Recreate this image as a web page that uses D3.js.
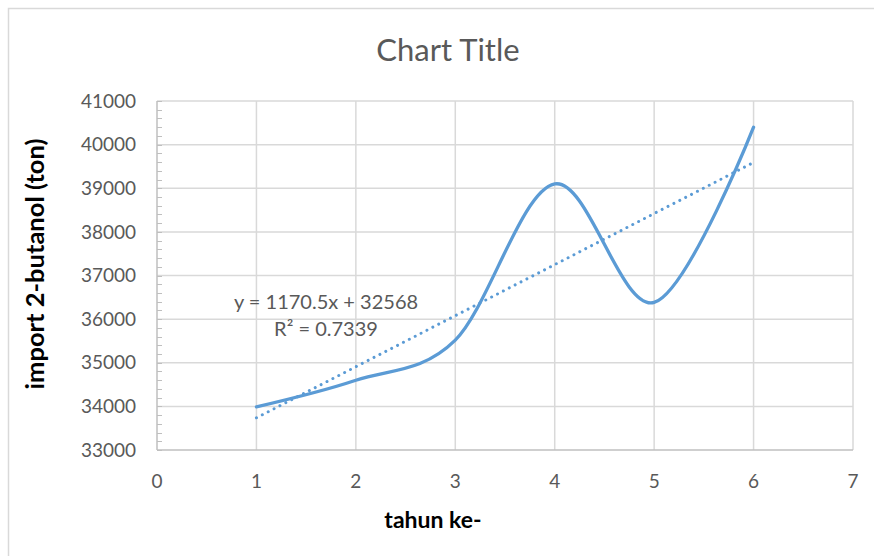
<!DOCTYPE html>
<html>
<head>
<meta charset="utf-8">
<script src="https://cdn.jsdelivr.net/npm/d3@7"></script>
<style>
  html, body { margin: 0; padding: 0; background: #fff; }
  svg { display: block; font-family: Lato, "Open Sans", sans-serif; }
</style>
</head>
<body>
<svg id="chart" width="874" height="556"></svg>
<script>
// Import of 2-butanol per year index
const years = [1, 2, 3, 4, 5, 6];
const imports = [33990, 34600, 35520, 39098, 36382, 40399];

// Linear trendline as reported on the chart
const trendSlope = 1170.5;
const trendIntercept = 32568;
const trendLabel = "y = 1170.5x + 32568";
const r2Label = "R² = 0.7339";

const xTicks = [0, 1, 2, 3, 4, 5, 6, 7];
const yTicks = [33000, 34000, 35000, 36000, 37000, 38000, 39000, 40000, 41000];

const title = "Chart Title";
const xTitle = "tahun ke-";
const yTitle = "import 2-butanol (ton)";

const svg = d3.select("#chart");
const W = 874, H = 556;

const x = d3.scaleLinear().domain([0, 7]).range([157, 853]);
const y = d3.scaleLinear().domain([33000, 41000]).range([450, 101]);

// chart area border
svg.append("rect")
  .attr("x", 8.5).attr("y", 8.5)
  .attr("width", W + 10).attr("height", H + 10)
  .attr("fill", "#fff").attr("stroke", "#d9d9d9").attr("stroke-width", 1.5);

// gridlines
const grid = svg.append("g").attr("stroke", "#d9d9d9").attr("stroke-width", 1.5);
grid.selectAll("line.h").data(yTicks.slice(1)).join("line")
  .attr("x1", x(0)).attr("x2", x(7))
  .attr("y1", d => y(d)).attr("y2", d => y(d));
grid.selectAll("line.v").data(xTicks.slice(1)).join("line")
  .attr("x1", d => x(d)).attr("x2", d => x(d))
  .attr("y1", y(33000)).attr("y2", y(41000));

// minor ticks on the value axis
const minor = d3.range(33000, 41001, 200);
svg.append("g").attr("stroke", "#bfbfbf").attr("stroke-width", 1)
  .selectAll("line").data(minor).join("line")
  .attr("x1", x(0)).attr("x2", x(0) + 5)
  .attr("y1", d => Math.round(y(d)) + 0.5).attr("y2", d => Math.round(y(d)) + 0.5);

// axis lines
svg.append("line")
  .attr("x1", x(0)).attr("x2", x(0)).attr("y1", y(33000)).attr("y2", y(41000))
  .attr("stroke", "#bfbfbf").attr("stroke-width", 1.5);
svg.append("line")
  .attr("x1", x(0)).attr("x2", x(7)).attr("y1", y(33000)).attr("y2", y(33000))
  .attr("stroke", "#bfbfbf").attr("stroke-width", 1.5);

// tick labels
svg.append("g").selectAll("text").data(yTicks).join("text")
  .attr("x", 136).attr("y", d => y(d))
  .attr("dy", "0.35em")
  .attr("text-anchor", "end")
  .attr("font-size", 19).attr("fill", "#595959")
  .text(d => d);
svg.append("g").selectAll("text").data(xTicks).join("text")
  .attr("x", d => x(d)).attr("y", 481)
  .attr("dy", "0.35em")
  .attr("text-anchor", "middle")
  .attr("font-size", 19).attr("fill", "#595959")
  .text(d => d);

// titles
svg.append("text")
  .attr("x", 448).attr("y", 50).attr("dy", "0.35em")
  .attr("text-anchor", "middle")
  .attr("font-size", 31).attr("fill", "#595959")
  .text(title);
svg.append("text")
  .attr("x", 433).attr("y", 520).attr("dy", "0.35em")
  .attr("text-anchor", "middle")
  .attr("font-size", 23).attr("font-weight", "bold").attr("fill", "#000")
  .text(xTitle);
svg.append("text")
  .attr("transform", "translate(35,264) rotate(-90)")
  .attr("dy", "0.35em")
  .attr("text-anchor", "middle")
  .attr("font-size", 25.5).attr("font-weight", "bold").attr("fill", "#000")
  .text(yTitle);

// trendline
const trend = d3.line().x(d => x(d)).y(d => y(trendSlope * d + trendIntercept));
svg.append("path")
  .attr("d", trend([years[0], years[years.length - 1]]))
  .attr("fill", "none").attr("stroke", "#5b9bd5")
  .attr("stroke-width", 3).attr("stroke-linecap", "round")
  .attr("stroke-dasharray", "0.01 6.6");

// smoothed data line
const pts = years.map((d, i) => [d, imports[i]]);
const line = d3.line().x(d => x(d[0])).y(d => y(d[1])).curve(d3.curveCardinal.tension(0));
svg.append("path")
  .attr("d", line(pts))
  .attr("fill", "none").attr("stroke", "#5b9bd5")
  .attr("stroke-width", 3.3).attr("stroke-linecap", "round").attr("stroke-linejoin", "round");

// trendline equation
svg.append("text")
  .attr("x", 326).attr("y", 302).attr("dy", "0.35em")
  .attr("text-anchor", "middle")
  .attr("font-size", 20).attr("fill", "#595959")
  .text(trendLabel);
svg.append("text")
  .attr("x", 326).attr("y", 329).attr("dy", "0.35em")
  .attr("text-anchor", "middle")
  .attr("font-size", 20).attr("fill", "#595959")
  .text(r2Label);
</script>
</body>
</html>
